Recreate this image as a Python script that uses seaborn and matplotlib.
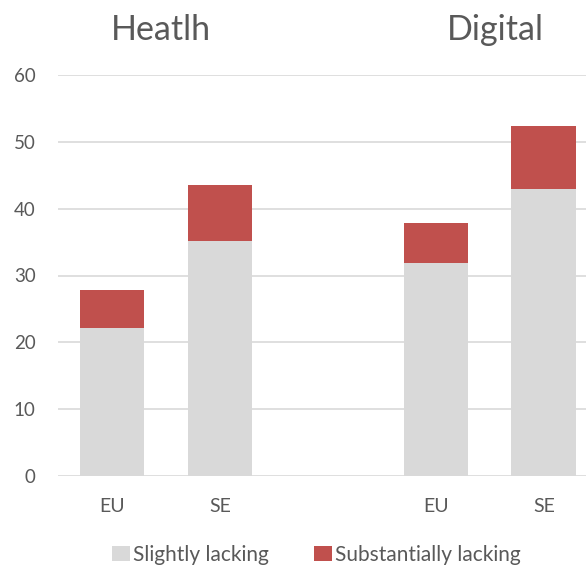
import matplotlib
matplotlib.use("Agg")
import matplotlib.pyplot as plt
import matplotlib.transforms as mtransforms
from matplotlib.patches import Patch
import seaborn as sns
import pandas as pd

# ---- data ----
keys = ["H-EU", "H-SE", "D-EU", "D-SE"]
order = ["H-EU", "H-SE", "gap", "D-EU", "D-SE"]
tick_labels = ["EU", "SE", "", "EU", "SE"]
slightly = [22.1, 35.2, 31.8, 42.9]
substantially = [5.75, 8.3, 6.0, 9.5]
group_titles = ["Heatlh", "Digital"]
group_title_pos = [0.45, 3.55]
series_names = ["Slightly lacking", "Substantially lacking"]

GRAY = "#D9D9D9"
RED = "#C0504D"
TXT = "#595959"

sns.set_theme(style="white")
plt.rcParams["font.family"] = ["Lato", "DejaVu Sans"]

df = pd.DataFrame({"key": keys, "slight": slightly, "subst": substantially})
df["total"] = df["slight"] + df["subst"]

fig = plt.figure(figsize=(5.86, 5.67), dpi=100)
ax = fig.add_axes([58 / 586, 1 - 476 / 567, 1 - 58 / 586, (476 - 75) / 567])

sns.barplot(data=df, x="key", y="total", order=order, color=RED, saturation=1,
            width=0.6, ax=ax, zorder=3, edgecolor="none")
sns.barplot(data=df, x="key", y="slight", order=order, color=GRAY, saturation=1,
            width=0.6, ax=ax, zorder=3, edgecolor="none")

ax.set_ylim(0, 60)
ax.set_xlim(-0.5, 4.39)
ax.set_yticks(range(0, 61, 10))
ax.set_xticks(range(len(order)))
ax.set_xticklabels(tick_labels)
ax.set_xlabel("")
ax.set_ylabel("")
ax.yaxis.grid(True, color=GRAY, linewidth=1.2, zorder=0)
ax.set_axisbelow(True)
for s in ax.spines.values():
    s.set_visible(False)
ax.tick_params(axis="y", length=0, pad=16, labelsize=13.5, labelcolor=TXT)
ax.tick_params(axis="x", length=0, pad=16, labelsize=14, labelcolor=TXT)

trans = mtransforms.blended_transform_factory(ax.transData, fig.transFigure)
for t, xp in zip(group_titles, group_title_pos):
    ax.text(xp, 1 - 40 / 567, t, transform=trans, ha="center", va="baseline",
            fontsize=24.5, color=TXT)

handles = [Patch(facecolor=GRAY, edgecolor="none"), Patch(facecolor=RED, edgecolor="none")]
fig.legend(handles, series_names, loc="center", bbox_to_anchor=(316.5 / 586, 1 - 555 / 567),
           ncol=2, frameon=False, fontsize=15, labelcolor=TXT, handlelength=0.85,
           handleheight=0.7, handletextpad=0.15, columnspacing=2.2)

fig.savefig("out.png", dpi=100)
